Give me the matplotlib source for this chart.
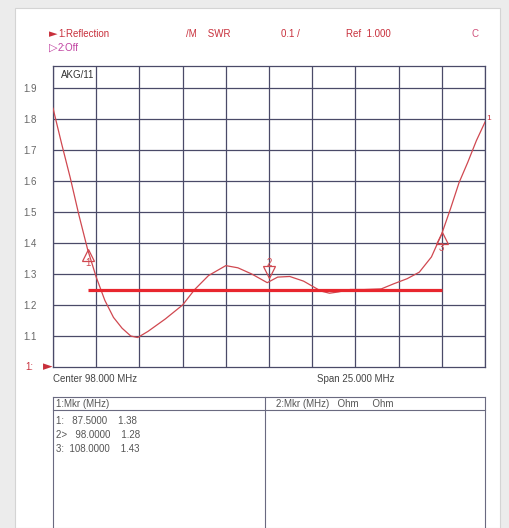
import numpy as np
import matplotlib.pyplot as plt
from matplotlib.patches import Rectangle
from matplotlib.lines import Line2D

plt.rcParams['font.family'] = ['Liberation Sans', 'DejaVu Sans']

# 数据：SWR 曲线
freq = [85.5, 86.0, 86.5, 87.0, 87.5, 88.0, 88.5, 89.0, 89.5, 90.0, 90.4,
        91.0, 92.0, 93.0, 93.7, 94.5, 95.5, 96.2, 97.0, 97.9, 98.5, 99.2,
        100.0, 100.5, 101.0, 101.5, 102.0, 102.7, 103.5, 104.5, 105.2, 106.0,
        106.7, 107.4, 108.0, 108.5, 109.0, 109.5, 110.0, 110.5]
swr = [1.835, 1.72, 1.61, 1.49, 1.38, 1.29, 1.215, 1.16, 1.125, 1.10, 1.095,
       1.115, 1.155, 1.20, 1.25, 1.295, 1.327, 1.32, 1.30, 1.272, 1.29, 1.292,
       1.277, 1.261, 1.245, 1.238, 1.242, 1.25, 1.25, 1.252, 1.268, 1.285,
       1.306, 1.355, 1.43, 1.51, 1.595, 1.66, 1.73, 1.79]

# 标记点
mk_id = ['1:', '2>', '3:']
mk_freq = [87.5, 98.0, 108.0]
mk_val = [1.38, 1.28, 1.43]

# 参考线
ref_level = 1.25
center, span = 98.0, 25.0
ytick_vals = [1.1, 1.2, 1.3, 1.4, 1.5, 1.6, 1.7, 1.8, 1.9]

W, H = 510, 528
def fx(x): return x / W
def fy(y): return 1 - y / H

RED = '#c8303c'
GRID = '#4a4a68'

fig = plt.figure(figsize=(W / 100, H / 100), dpi=100, facecolor='#ececec')
fig.add_artist(Rectangle((fx(15), fy(528)), fx(500) - fx(15), fy(8) - fy(528),
                         transform=fig.transFigure, facecolor='white',
                         edgecolor='#d4d4d4', lw=0.8, zorder=-5))

ax = fig.add_axes([fx(53), fy(367), fx(485) - fx(53), fy(65.5) - fy(367)])
ax.set_facecolor('white')
x0, x1 = center - span / 2, center + span / 2
ax.set_xlim(x0, x1)
ax.set_ylim(1.0, 1.0 + (367 - 65.5) / 310)
ax.set_xticks(np.linspace(x0, x1, 11))
ax.set_yticks(ytick_vals)
ax.set_yticklabels(['%.1f' % v for v in ytick_vals])
ax.tick_params(axis='x', length=0, labelbottom=False)
ax.tick_params(axis='y', length=0, pad=12, labelsize=7, labelcolor='#666666')
ax.grid(True, color=GRID, lw=0.9)
for s in ax.spines.values():
    s.set_color(GRID)
    s.set_linewidth(0.9)

# 曲线与参考线
ax.plot(freq, swr, color='#d04850', lw=0.9, zorder=3)
ax.plot([mk_freq[0], mk_freq[2]], [ref_level, ref_level], color='#e8262e',
        lw=2.3, solid_capstyle='butt', zorder=4)
ax.text(x1 + 0.1, swr[-1] + 0.01, '1', color=RED, fontsize=6, va='center')

# 标记三角
mk_style = [('^', -0.02, -0.045), ('v', 0.027, 0.055), ('^', -0.014, -0.045)]
for i, (m, dy, ly) in enumerate(mk_style):
    ax.plot(mk_freq[i], mk_val[i] + dy, marker=m, ms=8, mfc='none',
            mec='#d04850', mew=0.9, zorder=5)
    ax.text(mk_freq[i], mk_val[i] + ly, str(i + 1), color='#d04850',
            fontsize=7, ha='center', va='center', zorder=5)

fig.text(fx(61), fy(75), 'AKG/11', fontsize=7, color='#333333', va='center')

# 左下 "1:" 与红色三角
fig.text(fx(25), fy(367), '1:', fontsize=7, color=RED, va='center')
fig.text(fx(43), fy(367), '\u25ba', fontsize=9, color=RED, va='center',
         family=['DejaVu Sans'])

# 顶部信息
fig.text(fx(49), fy(34), '\u25ba', fontsize=8, color=RED, va='center',
         family=['DejaVu Sans'])
fig.text(fx(58), fy(34), '1:Reflection', fontsize=7, color=RED, va='center')
fig.text(fx(186), fy(34), '/M    SWR', fontsize=7, color=RED, va='center')
fig.text(fx(281), fy(34), '0.1 /', fontsize=7, color=RED, va='center')
fig.text(fx(346), fy(34), 'Ref  1.000', fontsize=7, color=RED, va='center')
fig.text(fx(472), fy(34), 'C', fontsize=7, color='#d0507a', va='center')
fig.text(fx(49), fy(48), '\u25b7', fontsize=8, color='#c040a0', va='center',
         family=['DejaVu Sans'])
fig.text(fx(58), fy(48), '2:Off', fontsize=7, color='#c040a0', va='center')

fig.text(fx(53), fy(379), 'Center %.3f MHz' % center, fontsize=7,
         color='#444444', va='center')
fig.text(fx(317), fy(379), 'Span %.3f MHz' % span, fontsize=7,
         color='#444444', va='center')

# 标记表格
def seg(xa, ya, xb, yb):
    fig.add_artist(Line2D([fx(xa), fx(xb)], [fy(ya), fy(yb)],
                          transform=fig.transFigure, color='#6a6a80', lw=0.8))

seg(53, 397, 485, 397)
seg(53, 410, 485, 410)
seg(53, 397, 53, 528)
seg(485, 397, 485, 528)
seg(265, 397, 265, 528)

fig.text(fx(56), fy(404), '1:Mkr (MHz)', fontsize=7, color='#555555', va='center')
fig.text(fx(276), fy(404), '2:Mkr (MHz)   Ohm     Ohm', fontsize=7,
         color='#555555', va='center')
for i in range(len(mk_id)):
    fig.text(fx(56), fy(421 + 14 * i),
             '%s %9.4f    %.2f' % (mk_id[i], mk_freq[i], mk_val[i]),
             fontsize=7, color='#555555', va='center')

fig.savefig('out.png', dpi=100, facecolor=fig.get_facecolor())
